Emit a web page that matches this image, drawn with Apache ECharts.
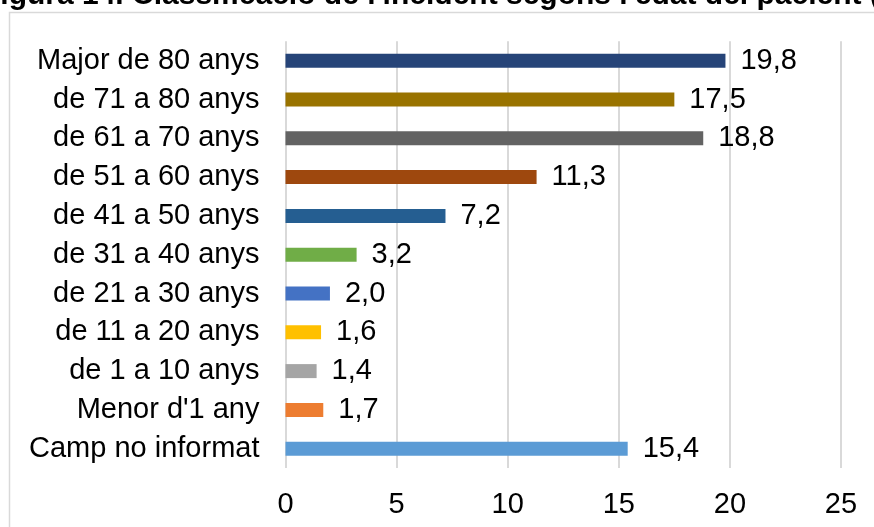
<!DOCTYPE html>
<html>
<head>
<meta charset="utf-8">
<script src="https://cdn.jsdelivr.net/npm/echarts@6/dist/echarts.min.js"></script>
<style>
  html, body { margin: 0; padding: 0; background: #fff; }
  #chart { width: 874px; height: 527px; }
</style>
</head>
<body>
<div id="chart"></div>
<script>
// Age groups, top to bottom
var categories = [
  'Major de 80 anys', 'de 71 a 80 anys', 'de 61 a 70 anys', 'de 51 a 60 anys',
  'de 41 a 50 anys', 'de 31 a 40 anys', 'de 21 a 30 anys', 'de 11 a 20 anys',
  'de 1 a 10 anys', "Menor d'1 any", 'Camp no informat'
];
// Percentage of incidents per age group
var values = [19.8, 17.5, 18.8, 11.3, 7.2, 3.2, 2.0, 1.6, 1.4, 1.7, 15.4];
var barColors = [
  '#264478', '#997300', '#636363', '#9E480E', '#255E91', '#70AD47',
  '#4472C4', '#FFC000', '#A5A5A5', '#ED7D31', '#5B9BD5'
];
var titleText = "Figura 14. Classificació de l'incident segons l'edat del pacient (";

var FONT = '"Liberation Sans", Arial, sans-serif';
var chart = echarts.init(document.getElementById('chart'), null, { renderer: 'canvas' });

chart.setOption({
  animation: false,
  backgroundColor: '#ffffff',
  graphic: [
    {
      type: 'rect',
      z: -1,
      shape: { x: 9.5, y: 12.5, width: 900, height: 600 },
      style: { fill: '#ffffff', stroke: '#d9d9d9', lineWidth: 1.5 }
    },
    {
      type: 'text',
      x: -18,
      y: -4,
      style: {
        text: titleText,
        font: 'bold 30px ' + FONT,
        fill: '#000000',
        textAlign: 'left',
        textVerticalAlign: 'middle'
      }
    }
  ],
  grid: { left: 285.5, right: 33, top: 41.3, bottom: 58.9, containLabel: false },
  xAxis: {
    type: 'value',
    min: 0,
    max: 25,
    interval: 5,
    axisLine: { show: false },
    axisTick: { show: false },
    splitLine: { show: true, lineStyle: { color: '#d9d9d9', width: 2 } },
    axisLabel: { color: '#000', fontSize: 29, fontFamily: FONT, margin: 22 }
  },
  yAxis: {
    type: 'category',
    inverse: true,
    data: categories,
    axisLine: { show: false },
    axisTick: { show: false },
    axisLabel: { color: '#000', fontSize: 29, fontFamily: FONT, margin: 26 }
  },
  series: [{
    type: 'bar',
    barWidth: 14,
    data: values.map(function (v, i) {
      return { value: v, itemStyle: { color: barColors[i] } };
    }),
    label: {
      show: true,
      position: 'right',
      distance: 15,
      color: '#000',
      fontSize: 29,
      fontFamily: FONT,
      formatter: function (p) { return p.value.toFixed(1).replace('.', ','); }
    }
  }]
});
</script>
</body>
</html>
